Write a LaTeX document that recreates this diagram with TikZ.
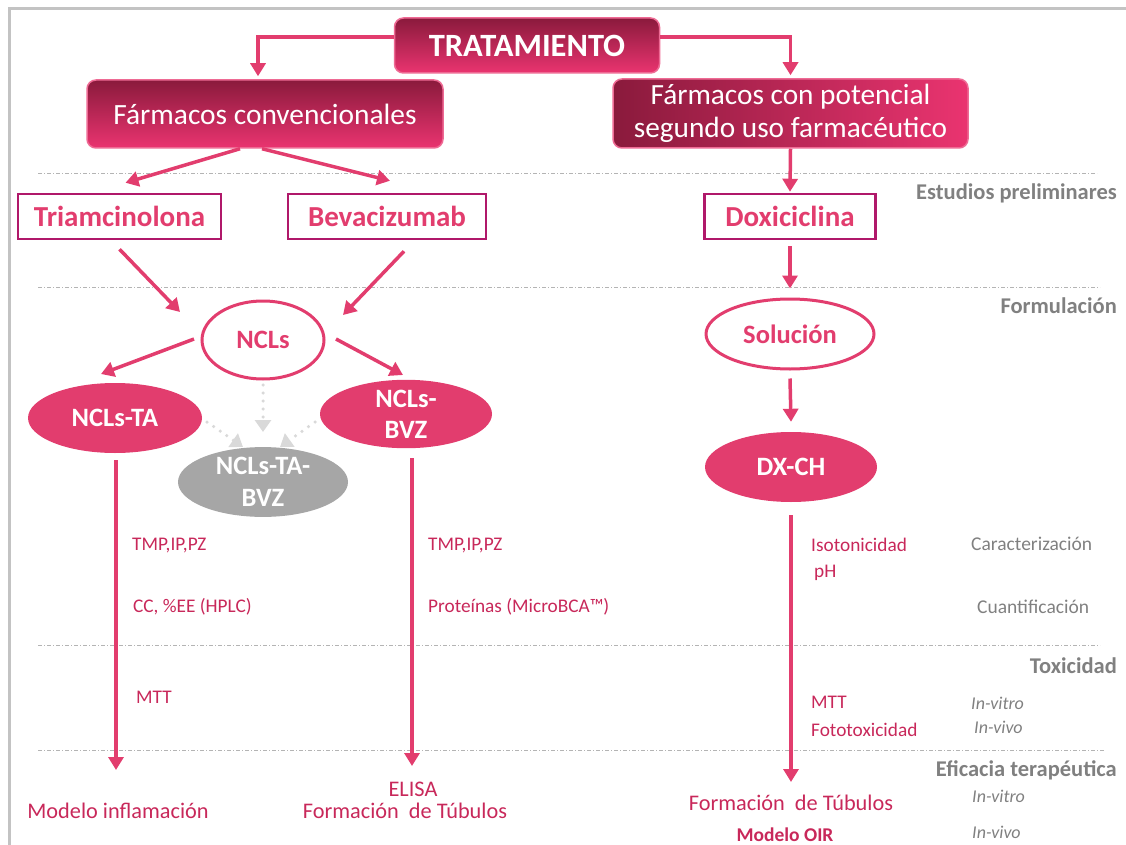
\documentclass[tikz,border=0pt]{standalone}
\usepackage{fontspec}
\setmainfont{Carlito}
\usetikzlibrary{arrows.meta,shapes.geometric}

\definecolor{pinkA}{HTML}{E23D6E}
\definecolor{crim}{HTML}{C8285A}
\definecolor{boxedge}{HTML}{B0186A}
\definecolor{gdark}{HTML}{8A1A3C}
\definecolor{glight}{HTML}{EA3470}
\definecolor{edgepink}{HTML}{EE6A94}
\definecolor{labgray}{HTML}{808080}
\definecolor{framegray}{HTML}{C3C3C3}
\definecolor{dotgray}{HTML}{D9D9D9}
\definecolor{ellgray}{HTML}{A6A6A6}
\definecolor{sepgray}{HTML}{B4B4B4}

\newcommand{\fs}[2]{\fontsize{#1}{#2}\selectfont}

\begin{document}
\begin{tikzpicture}[x=1pt,y=-1pt,
  arr/.style={draw=pinkA, line width=3.5pt, -{Triangle[length=13pt,width=15pt]}},
  dotarr/.style={draw=dotgray, line width=3.5pt, line cap=round,
    dash pattern=on 0pt off 8pt, -{Triangle[length=12pt,width=16pt]}},
  sepline/.style={draw=sepgray, line width=0.8pt,
    dash pattern=on 4pt off 2pt on 1pt off 2pt},
  gbox/.style={rounded corners=9pt, draw=edgepink, line width=1.5pt,
    text=white, inner sep=0pt, align=center},
  wbox/.style={draw=boxedge, line width=2.5pt, fill=white, text=pinkA,
    inner sep=0pt, font=\fs{29}{33}\bfseries},
  pell/.style={ellipse, fill=pinkA, text=white, inner sep=0pt, align=center,
    font=\fs{26.5}{31}\bfseries},
  wel/.style={ellipse, draw=pinkA, line width=3pt, fill=white, text=pinkA,
    inner sep=0pt, font=\fs{26.5}{30}\bfseries},
  gel/.style={ellipse, fill=ellgray, text=white, inner sep=0pt, align=center,
    font=\fs{26.5}{32}\bfseries},
  item/.style={text=crim, inner sep=0pt, anchor=west, font=\fs{19.3}{23}},
  res/.style={text=crim, inner sep=0pt, font=\fs{22.3}{24}},
  stage/.style={text=labgray, inner sep=0pt, anchor=east, font=\fs{22.5}{25}\bfseries},
  kind/.style={text=labgray, inner sep=0pt, anchor=west, font=\fs{19.5}{23}},
  mode/.style={text=labgray, inner sep=0pt, anchor=west, font=\fs{18}{22}\itshape}
]
\useasboundingbox (0,0) rectangle (1126,845);

% frame
\draw[framegray, line width=3pt] (9,845) -- (9,9) -- (1126,9);

% stage separators
\draw[sepline] (38,173) -- (1097,173);
\draw[sepline] (38,287) -- (1100,287);
\draw[sepline] (38,645) -- (1100,645);
\draw[sepline] (38,750) -- (1104,750);

% stage labels
\node[stage] (s1) at (1117,193) {Estudios preliminares};
\node[stage] (s2) at (1117,306) {Formulación};
\node[stage] (s3) at (1117,666) {Toxicidad};
\node[stage] (s4) at (1117,770) {Eficacia terapéutica};

% top boxes
\node[gbox, minimum width=265pt, minimum height=55pt, top color=gdark, bottom color=glight,
  font=\fs{32.5}{36}\bfseries] (trat) at (527,45.5) {TRATAMIENTO};
\node[gbox, minimum width=356pt, minimum height=68pt, top color=gdark, bottom color=glight,
  font=\fs{29.4}{33}] (fc) at (265,114) {Fármacos convencionales};
\node[gbox, minimum width=355pt, minimum height=69pt, left color=gdark, right color=glight,
  font=\fs{29.3}{33}] (fp) at (790.5,113.5) {Fármacos con potencial\\segundo uso farmacéutico};

% drug boxes
\node[wbox, minimum width=203pt, minimum height=45pt] (tri) at (119.5,216.5) {Triamcinolona};
\node[wbox, minimum width=198pt, minimum height=45pt] (bev) at (387,216.5) {Bevacizumab};
\node[wbox, minimum width=171pt, minimum height=45pt] (dox) at (790,216.5) {Doxiciclina};

% formulations
\node[wel, minimum width=122pt, minimum height=78pt] (ncl) at (263,340) {NCLs};
\node[pell, minimum width=174pt, minimum height=70pt] (ta) at (115,418) {NCLs-TA};
\node[pell, minimum width=172pt, minimum height=68pt] (bvz) at (406,414) {NCLs-\\BVZ};
\node[gel, minimum width=170pt, minimum height=66pt] (tabvz) at (263,482) {NCLs-TA-\\BVZ};
\node[wel, minimum width=168pt, minimum height=70pt] (sol) at (790,334) {Solución};
\node[pell, minimum width=172pt, minimum height=70pt] (dxch) at (791,467) {DX-CH};

% connectors from the top
\draw[arr] ([yshift=8.5pt]trat.west) -| ([xshift=-7pt,yshift=3pt]fc.north);
\draw[arr] ([yshift=8.5pt]trat.east) -| ([yshift=3pt]fp.north);
\draw[arr] ([xshift=-25pt]fc.south) -- ([xshift=6pt,yshift=10pt]tri.north);
\draw[arr] ([xshift=-3pt]fc.south) -- ([xshift=3pt,yshift=12pt]bev.north);
\draw[arr] (fp.south) -- ([yshift=1pt]dox.north);

% left branch
\draw[arr] ([yshift=-9pt]tri.south) -- ([shift={(-83pt,28pt)}]ncl.center);
\draw[arr] ([shift={(17pt,-11pt)}]bev.south) -- ([shift={(80pt,25pt)}]ncl.center);
\draw[arr] ([shift={(-69pt,1pt)}]ncl.center) -- ([shift={(-14pt,44pt)}]ta.center);
\draw[arr] ([shift={(73pt,1pt)}]ncl.center) -- ([shift={(-3pt,39pt)}]bvz.center);
\draw[dotarr] ([yshift=-45pt]ncl.center) -- ([yshift=50pt]tabvz.center);
\draw[dotarr] ([shift={(92pt,-4pt)}]ta.center) -- ([shift={(-20pt,35pt)}]tabvz.center);
\draw[dotarr] ([shift={(-91pt,-8pt)}]bvz.center) -- ([shift={(17pt,35pt)}]tabvz.center);

\coordinate (taend) at (116,770);
\coordinate (bvzend) at (412,766);
\draw[arr] ([xshift=1pt,yshift=-7pt]ta.south) -- (taend);
\draw[arr] ([xshift=6pt,yshift=-10pt]bvz.south) -- (bvzend);

% right branch
\draw[arr] ([yshift=-6pt]dox.south) -- ([yshift=9pt]sol.north);
\draw[arr] ([yshift=-8pt]sol.south) -- ([yshift=10pt]dxch.north);
\coordinate (dxend) at (791,782);
\draw[arr] ([yshift=-13pt]dxch.south) -- (dxend);

% assays
\node[item] (t1) at (132,546) {TMP,IP,PZ};
\node[item] (t2) at (133,607) {CC, \%EE (HPLC)};
\node[item] (t3) at (136,697) {MTT};
\node[item] (b1) at (428,546) {TMP,IP,PZ};
\node[item] (b2) at (428,607) {Proteínas (MicroBCA™)};
\node[item] (d1) at (811,545) {Isotonicidad};
\node[item] (d2) at (814,573) {pH};
\node[item] (d3) at (811,702) {MTT};
\node[item] (d4) at (811,730) {Fototoxicidad};

\node[kind] (k1) at (971,544) {Caracterización};
\node[kind] (k2) at (977,607) {Cuantificación};
\node[mode] (m1) at (971,703) {In-vitro};
\node[mode] (m2) at (974,727) {In-vivo};
\node[mode] (m3) at (972,796) {In-vitro};
\node[mode] (m4) at (972,832) {In-vivo};

% outcomes
\node[res] (r1) at (118,811) {Modelo inflamación};
\node[res] (r2) at (413,789) {ELISA};
\node[res] (r3) at (405,811) {Formación\ \ de Túbulos};
\node[res] (r4) at (791,803) {Formación\ \ de Túbulos};
\node[res, font=\fs{19.5}{23}\bfseries] (r5) at (785,835) {Modelo OIR};
\end{tikzpicture}
\end{document}
